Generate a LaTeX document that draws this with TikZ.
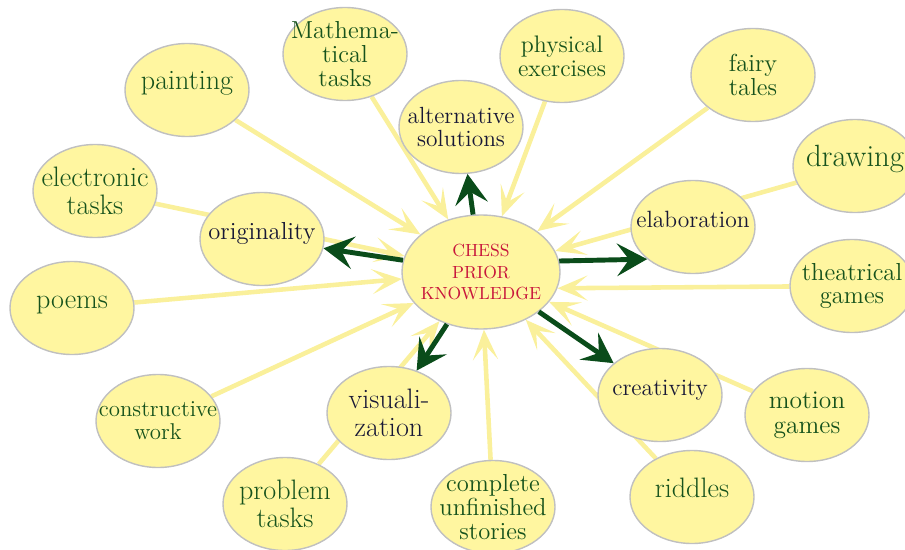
\documentclass[tikz,border=0pt]{standalone}
\usepackage{tikz}
\usetikzlibrary{shapes.geometric, arrows.meta, backgrounds}
\definecolor{bubblefill}{RGB}{255,246,160}
\definecolor{bubbleline}{RGB}{192,192,192}
\definecolor{leafgreen}{RGB}{22,82,28}
\definecolor{innerblue}{RGB}{24,24,54}
\definecolor{chessred}{RGB}{200,22,60}
\definecolor{arrowgreen}{RGB}{10,76,26}
\definecolor{rayyellow}{RGB}{250,240,155}
\tikzstyle{bubble} = [ellipse, draw=bubbleline, line width=0.8pt, fill=bubblefill, minimum width=2.48cm, minimum height=1.86cm, inner xsep=-0.4cm, inner ysep=-0.2cm, align=center]
\tikzstyle{leaf} = [bubble, text=leafgreen, font=\fontsize{14}{13.6}\selectfont]
\tikzstyle{branch} = [bubble, text=innerblue, font=\fontsize{14}{13.6}\selectfont]
\tikzstyle{hub} = [bubble, minimum width=3.16cm, minimum height=2.28cm, text=chessred, font=\fontsize{10}{12.4}\selectfont]
\tikzstyle{bigtext} = [font=\fontsize{16}{15.8}\selectfont]
\tikzstyle{smalltext} = [font=\fontsize{13}{13}\selectfont]
\tikzstyle{oneline} = [text height=0.3cm, text depth=0.3cm]
\tikzstyle{ray} = [line width=2.6pt, draw=rayyellow, fill=rayyellow, -{Stealth[length=6mm, width=5mm, inset=3mm]}]
\tikzstyle{arrow} = [line width=2.8pt, draw=arrowgreen, -{Stealth[length=6mm, width=6.5mm, inset=2.4mm]}]

\begin{document}
\begin{tikzpicture}
    \useasboundingbox (0,0) rectangle (18.1,-11);
    % centre and the five inner bubbles
    \node [hub] at (9.62,-5.44) (chess) {CHESS\\PRIOR\\KNOWLEDGE};
    \node [branch, font=\fontsize{13.3}{13.6}\selectfont] at (9.22,-2.54) (alt) {alternative\\solutions};
    \node [branch, oneline] at (5.24,-4.78) (orig) {originality};
    \node [branch, oneline, font=\fontsize{13.4}{13.6}\selectfont] at (13.86,-4.54) (elab) {elaboration};
    \node [branch, oneline, font=\fontsize{13.4}{13.6}\selectfont] at (13.2,-7.9) (creat) {creativity};
    \node [branch, bigtext] at (7.78,-8.26) (visual) {visuali-\\zation};
    % outer bubbles
    \node [leaf] at (6.9,-1.08) (math) {Mathema-\\tical\\tasks};
    \node [leaf, oneline, bigtext] at (3.74,-1.8) (paint) {painting};
    \node [leaf, font=\fontsize{13.6}{13.6}\selectfont] at (11.24,-1.12) (phys) {physical\\exercises};
    \node [leaf] at (15.06,-1.5) (fairy) {fairy\\tales};
    \node [leaf, oneline, font=\fontsize{17.5}{16}\selectfont] at (17.1,-3.32) (drawing) {drawing};
    \node [leaf, bigtext] at (1.9,-3.82) (elec) {electronic\\tasks};
    \node [leaf, oneline, bigtext] at (1.44,-6.16) (poems) {poems};
    \node [leaf] at (17.04,-5.72) (theat) {theatrical\\games};
    \node [leaf, smalltext] at (3.16,-8.42) (constr) {constructive\\work};
    \node [leaf, bigtext] at (5.7,-10.08) (problem) {problem\\tasks};
    \node [leaf] at (9.86,-10.14) (complete) {complete\\unfinished\\stories};
    \node [leaf, oneline, bigtext] at (13.84,-9.94) (riddles) {riddles};
    \node [leaf, font=\fontsize{14.5}{14}\selectfont] at (16.14,-8.3) (motion) {motion\\games};
    % pale rays into the centre
    \begin{scope}[on background layer]
    \foreach \src in {math, paint, phys, fairy, drawing, elec, poems, constr, problem, complete, riddles, motion}
        \draw [ray] (\src) -- (chess);
    \draw [ray] (theat) -- (chess.-12);
    \end{scope}
    % green arrows out of the centre
    \draw [arrow] (chess) -- (alt);
    \draw [arrow] (chess) -- (orig);
    \draw [arrow] (chess.8) -- (elab.215);
    \draw [arrow] (chess) -- (creat);
    \draw [arrow] (chess) -- (visual);
\end{tikzpicture}
\end{document}
